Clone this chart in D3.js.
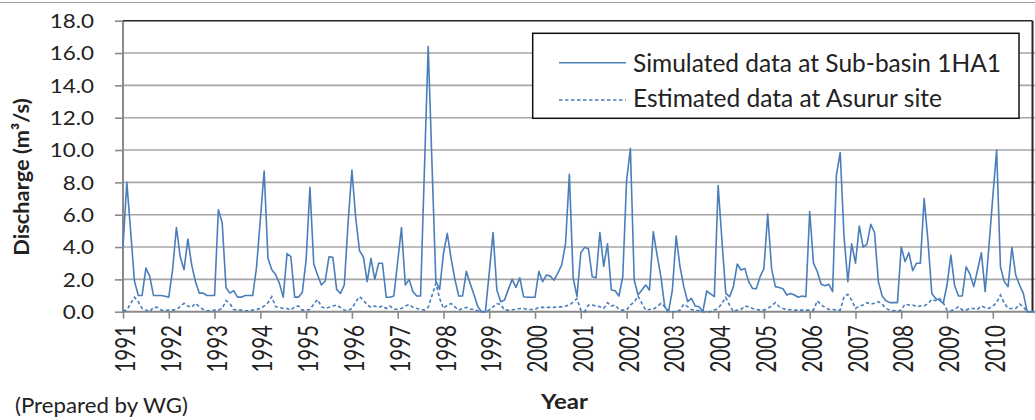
<!DOCTYPE html>
<html><head><meta charset="utf-8">
<script src="https://cdn.jsdelivr.net/npm/d3@7"></script>
<style>
html,body{margin:0;padding:0;background:#fff;}
svg{display:block;}
text{font-family:Lato,'Open Sans',sans-serif;fill:#222;}
</style>
</head><body>
<svg id="c" width="1035" height="420"></svg>
<script>
const years = ["1991","1992","1993","1994","1995","1996","1997","1998","1999","2000",
               "2001","2002","2003","2004","2005","2006","2007","2008","2009","2010"];
const yTicks = [0, 2, 4, 6, 8, 10, 12, 14, 16, 18];
const seriesNames = ["Simulated data at Sub-basin 1HA1", "Estimated data at Asurur site"];
const axisTitles = ["Discharge (m³/s)", "Year"];
const note = "(Prepared by WG)";

// monthly values, Jan 1991 - Dec 2010
const simulated = [
  4.0, 8.0, 5.0, 1.9, 1.0, 1.0, 2.7, 2.2, 1.0, 1.0, 1.0, 0.95,
  0.9, 2.6, 5.2, 3.4, 2.6, 4.5, 2.9, 1.85, 1.15, 1.15, 1.0, 1.0,
  1.0, 6.3, 5.5, 1.5, 1.15, 1.3, 0.9, 0.9, 1.0, 1.0, 1.0, 2.75,
  5.7, 8.7, 3.3, 2.6, 2.3, 1.75, 0.9, 3.6, 3.4, 0.9, 0.9, 1.2,
  3.2, 7.7, 2.95, 2.27, 1.65, 1.9, 3.4, 3.36, 1.38, 1.13, 1.65, 5.5,
  8.76, 5.8, 3.77, 3.4, 1.86, 3.3, 2.0, 3.0, 3.0, 0.89, 0.89, 0.97,
  3.1, 5.2, 1.65, 2.0, 1.24, 0.97, 0.97, 8.7, 16.4, 9.1, 1.9, 1.38,
  3.6, 4.85, 3.3, 2.0, 0.97, 0.97, 2.5, 1.75, 1.05, 0.3, 0.0, 0.0,
  2.4, 4.9, 1.34, 0.62, 0.72, 1.38, 2.0, 1.5, 2.1, 0.93, 0.89, 0.89,
  0.89, 2.5, 1.86, 2.27, 2.2, 1.95, 2.4, 2.9, 4.2, 8.5, 2.1, 0.93,
  3.65, 3.98, 3.9, 2.16, 2.1, 4.9, 2.8, 4.2, 1.34, 1.3, 0.97, 2.16,
  8.1, 10.1, 1.96, 1.03, 1.34, 1.65, 1.34, 4.95, 3.5, 2.16, 0.31, 0.0,
  1.34, 4.68, 2.78, 1.55, 0.62, 0.82, 0.35, 0.31, 0.0, 1.28, 1.1, 0.93,
  7.8, 4.4, 1.13, 0.93, 1.55, 2.95, 2.58, 2.68, 1.86, 1.44, 1.42, 2.16,
  2.68, 6.04, 2.68, 1.55, 1.5, 1.42, 1.03, 1.13, 1.03, 0.89, 0.97, 0.93,
  6.2, 3.0, 2.47, 1.7, 1.6, 1.7, 1.24, 8.45, 9.85, 4.64, 1.86, 4.2,
  3.0, 5.3, 4.0, 4.16, 5.4, 4.9, 1.86, 0.97, 0.68, 0.56, 0.56, 0.56,
  4.0, 3.1, 3.65, 2.54, 3.0, 3.0, 7.0, 4.4, 1.13, 0.82, 0.72, 0.52,
  1.65, 3.5, 1.6, 0.97, 0.97, 2.78, 2.33, 1.55, 2.58, 3.65, 1.24, 4.1,
  7.1, 10.0, 2.78, 1.86, 1.55, 3.98, 2.27, 1.65, 1.13, 0.0, 0.0, 0.0
];
const estimated = [
  0.05, 0.1, 0.5, 0.9, 0.62, 0.2, 0.1, 0.0, 0.27, 0.27, 0.1, 0.06,
  0.1, 0.1, 0.14, 0.31, 0.52, 0.35, 0.27, 0.52, 0.31, 0.14, 0.06, 0.06,
  0.1, 0.1, 0.2, 0.68, 0.52, 0.14, 0.1, 0.1, 0.06, 0.06, 0.1, 0.14,
  0.2, 0.35, 0.55, 0.93, 0.31, 0.27, 0.2, 0.2, 0.1, 0.31, 0.35, 0.1,
  0.1, 0.14, 0.47, 0.76, 0.31, 0.2, 0.27, 0.35, 0.41, 0.27, 0.1, 0.06,
  0.2, 0.6, 0.93, 0.72, 0.41, 0.27, 0.35, 0.27, 0.35, 0.2, 0.35, 0.15,
  0.15, 0.2, 0.35, 0.45, 0.27, 0.2, 0.15, 0.1, 0.27, 1.0, 1.75, 0.82,
  0.2, 0.41, 0.5, 0.3, 0.1, 0.2, 0.27, 0.15, 0.15, 0.05, 0.0, 0.0,
  0.1, 0.3, 0.5, 0.45, 0.1, 0.1, 0.12, 0.14, 0.2, 0.2, 0.14, 0.14,
  0.14, 0.27, 0.27, 0.27, 0.27, 0.27, 0.3, 0.3, 0.35, 0.41, 0.6, 0.8,
  0.1, 0.0, 0.41, 0.41, 0.35, 0.31, 0.2, 0.56, 0.35, 0.41, 0.14, 0.1,
  0.1, 0.41, 0.6, 0.97, 0.52, 0.1, 0.14, 0.14, 0.31, 0.52, 0.31, 0.0,
  0.0, 0.0, 0.1, 0.47, 0.31, 0.14, 0.1, 0.06, 0.0, 0.0, 0.0, 0.1,
  0.2, 0.52, 0.89, 0.41, 0.0, 0.1, 0.14, 0.35, 0.31, 0.2, 0.14, 0.1,
  0.1, 0.2, 0.35, 0.56, 0.31, 0.2, 0.14, 0.12, 0.1, 0.1, 0.1, 0.1,
  0.1, 0.1, 0.68, 0.41, 0.27, 0.14, 0.14, 0.1, 0.1, 0.93, 1.07, 0.72,
  0.2, 0.35, 0.41, 0.56, 0.47, 0.52, 0.62, 0.47, 0.2, 0.1, 0.06, 0.04,
  0.1, 0.47, 0.41, 0.41, 0.31, 0.35, 0.35, 0.5, 0.76, 0.68, 0.82, 0.56,
  0.1, 0.06, 0.14, 0.31, 0.1, 0.1, 0.2, 0.2, 0.14, 0.35, 0.25, 0.2,
  0.35, 0.56, 1.03, 0.52, 0.2, 0.2, 0.2, 0.47, 0.3, 0.0, 0.0, 0.0
];

const W = 1035, H = 420;
const L = 123, R = 1032.5, T = 20.7, B = 311.7;
const monthW = 3.815;
const blue = "#4a7ebb";
const gridC = "#a6a6a6", axisC = "#8a8a8a", borderC = "#262626";

const svg = d3.select("#c");
const x = d3.scaleLinear().domain([0, simulated.length - 1]).range([L, L + monthW * (simulated.length - 1)]);
const y = d3.scaleLinear().domain([0, 18]).range([B, T]);

// outer frame line at top
svg.append("line").attr("x1", 0).attr("x2", W).attr("y1", 2.5).attr("y2", 2.5)
  .attr("stroke", "#a0a0a0").attr("stroke-width", 1.2);

// gridlines
svg.append("g").selectAll("line").data(yTicks.filter(d => d > 0 && d < 18)).join("line")
  .attr("x1", L).attr("x2", W).attr("y1", d => y(d)).attr("y2", d => y(d))
  .attr("stroke", gridC).attr("stroke-width", 1.6);

// left axis (ticks + labels)
const sxY = 1.18;
const yAxis = svg.append("g").attr("transform", `translate(${L},0)`)
  .call(d3.axisLeft(y).tickValues(yTicks).tickSize(8).tickPadding(21).tickFormat(d3.format(".1f")));
yAxis.attr("font-family", null).attr("font-size", null);
yAxis.select(".domain").remove();
yAxis.selectAll(".tick line").attr("stroke", axisC).attr("stroke-width", 1.6);
yAxis.selectAll(".tick text")
  .attr("font-size", 19).attr("fill", "#222")
  .attr("x", -29 / sxY).attr("dy", "0.36em")
  .attr("transform", `scale(${sxY},1)`);
svg.append("line").attr("x1", L).attr("x2", L).attr("y1", T).attr("y2", B)
  .attr("stroke", axisC).attr("stroke-width", 2);

// plot border top & right
svg.append("line").attr("x1", L).attr("x2", R).attr("y1", T).attr("y2", T)
  .attr("stroke", borderC).attr("stroke-width", 1.6);
svg.append("line").attr("x1", R).attr("x2", R).attr("y1", T).attr("y2", B)
  .attr("stroke", borderC).attr("stroke-width", 2);

// bottom axis
const xAxis = svg.append("g").attr("transform", `translate(0,${B})`)
  .call(d3.axisBottom(x).tickValues(years.map((d, k) => k * 12)).tickSize(7)
    .tickFormat((d, k) => years[k]));
xAxis.attr("font-family", null).attr("font-size", null);
xAxis.select(".domain").remove();
xAxis.selectAll(".tick line").attr("stroke", axisC).attr("stroke-width", 1.6);
xAxis.selectAll(".tick text")
  .attr("font-size", 20.5).attr("fill", "#222")
  .attr("text-anchor", "end")
  .attr("x", -13.3).attr("y", 0).attr("dy", 8.9)
  .attr("transform", "rotate(-90) scale(1,1.3)");
svg.append("line").attr("x1", L).attr("x2", W).attr("y1", B).attr("y2", B)
  .attr("stroke", axisC).attr("stroke-width", 2);

// data lines
const line = d3.line().x((d, i) => x(i)).y(d => y(d));
svg.append("path").datum(estimated).attr("d", line)
  .attr("fill", "none").attr("stroke", blue).attr("stroke-width", 1.6)
  .attr("stroke-dasharray", "3.5,2.5");
svg.append("path").datum(simulated).attr("d", line)
  .attr("fill", "none").attr("stroke", blue).attr("stroke-width", 1.6)
  .attr("stroke-linejoin", "round");

// legend
const lg = svg.append("g");
lg.append("rect").attr("x", 532.7).attr("y", 33.3).attr("width", 486.3).attr("height", 85)
  .attr("fill", "#fff").attr("stroke", "#111").attr("stroke-width", 1.5);
const rows = [{name: seriesNames[0], dash: null, ly: 62.7, ty: 71.5},
              {name: seriesNames[1], dash: "3.5,2.5", ly: 100, ty: 106.8}];
rows.forEach(r => {
  lg.append("line").attr("x1", 559).attr("x2", 626).attr("y1", r.ly).attr("y2", r.ly)
    .attr("stroke", blue).attr("stroke-width", 1.4).attr("stroke-dasharray", r.dash);
  lg.append("text").attr("x", 633).attr("y", r.ty).attr("font-size", 24.5).text(r.name);
});

// axis titles
svg.append("text").attr("transform", "translate(29,177) rotate(-90)")
  .attr("text-anchor", "middle").attr("font-size", 21.8).attr("font-weight", "bold")
  .text(axisTitles[0]);
svg.append("text").attr("transform", "translate(564.5,409.3) scale(1.2,1)")
  .attr("text-anchor", "middle").attr("font-size", 20).attr("font-weight", "bold")
  .text(axisTitles[1]);
svg.append("text").attr("transform", "translate(15,413) scale(1.06,1)")
  .attr("font-size", 21).text(note);
</script>
</body></html>
